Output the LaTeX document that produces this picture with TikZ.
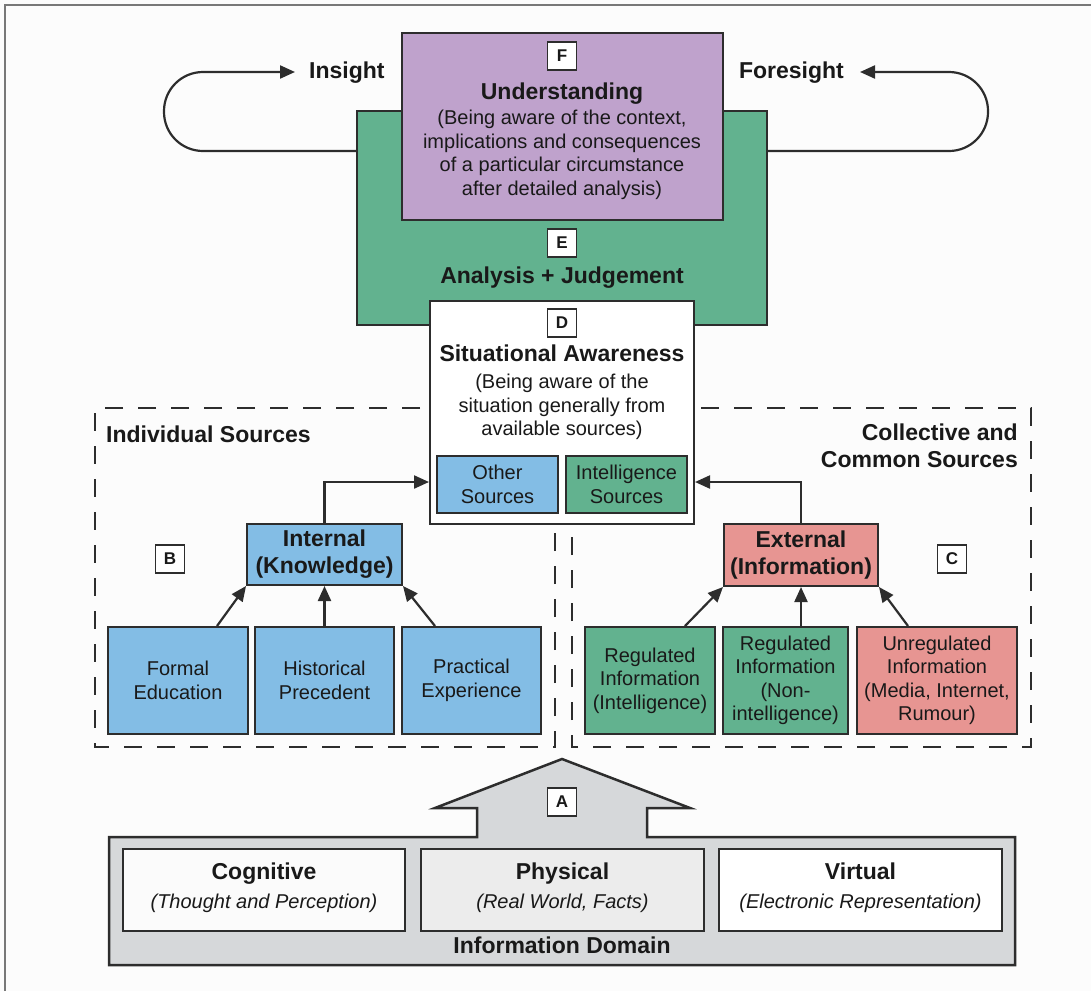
\documentclass[tikz,border=0pt]{standalone}
\usepackage{fontspec}
\setmainfont{Liberation Sans}
\usetikzlibrary{arrows.meta,calc}
\definecolor{purp}{RGB}{191,162,204}
\definecolor{grn}{RGB}{98,178,143}
\definecolor{blu}{RGB}{131,189,229}
\definecolor{pnk}{RGB}{231,149,146}
\definecolor{gry}{RGB}{214,216,218}
\definecolor{physg}{RGB}{236,236,236}
\definecolor{linec}{RGB}{45,45,45}
\definecolor{txt}{RGB}{25,25,25}
\definecolor{framec}{RGB}{120,120,120}
\newcommand{\myhead}{\fontsize{23}{27}\selectfont\bfseries}
\newcommand{\mybody}{\fontsize{20}{23.5}\selectfont}
\tikzset{
 box/.style={draw=linec, line width=2pt, inner sep=0pt},
 lbl/.style={draw=linec, fill=white, line width=1.8pt, minimum width=29pt, minimum height=28pt, inner sep=0pt, font=\fontsize{17}{17}\selectfont\bfseries, text=txt},
 head/.style={font=\myhead, text=txt, align=center, inner sep=0pt},
 hd1/.style={head, text height=16.8pt, text depth=4.8pt},
 body/.style={font=\mybody, text=txt, align=center, inner sep=0pt},
 arr/.style={draw=linec, line width=2.2pt, -{Triangle[length=15pt,width=13pt]}},
 zone/.style={draw=linec, line width=2pt, dash pattern=on 18pt off 15pt},
 leaf/.style={box, body, minimum height=107pt},
 dom/.style={box, minimum height=82pt},
}
\begin{document}
\begin{tikzpicture}[x=1pt,y=-1pt]
\useasboundingbox (0,0) rectangle (1091,991);
\fill[white!98!gray] (0,0) rectangle (1091,991);
\draw[framec, line width=1.5pt] (5,991) -- (5,5) -- (1091,5);

% E and F
\node[box, fill=grn, minimum width=410pt, minimum height=214pt] (E) at (562,218) {};
\node[box, fill=purp, minimum width=321pt, minimum height=187pt] (F) at (562.5,126.5) {};
\node[lbl] (Fl) at (562,56) {F};
\node[hd1] (Ft) at (562,93) {Understanding};
\node[body] (Fd) at (562,155) {(Being aware of the context,\\implications and consequences\\of a particular circumstance\\after detailed analysis)};
\node[lbl] (El) at (562,243) {E};
\node[hd1] (Et) at (562,277) {Analysis + Judgement};

% loops
\coordinate (ly) at (0,151);
\node[hd1, anchor=west, inner xsep=14pt] (ins) at (295,72) {Insight};
\node[hd1, anchor=east, inner xsep=16pt] (fore) at (860,72) {Foresight};
\draw[arr, rounded corners=39pt] (E.west |- ly) -- (164,151) -- (164,72) -- (ins.west);
\draw[arr, rounded corners=39pt] (E.east |- ly) -- (988,151) -- (988,72) -- (fore.east);

% zones
\draw[zone] (420,408) -- (95,408) -- (95,747) -- (555,747) -- (555,530);
\draw[zone] (701,408) -- (1031,408) -- (1031,747) -- (572,747) -- (572,530);
\node[hd1, anchor=west] (isrc) at (106,436) {Individual Sources};
\node[head, anchor=east, align=right] (csrc) at (1018,446) {Collective and\\Common Sources};
\node[lbl] (Bl) at (170,559) {B};
\node[lbl] (Cl) at (952,559) {C};

% D
\node[box, fill=white, minimum width=264pt, minimum height=223pt] (D) at (562,412.5) {};
\node[lbl] (Dl) at (562,323) {D};
\node[hd1] (Dt) at (562,355) {Situational Awareness};
\node[body] (Dd) at (562,407) {(Being aware of the\\situation generally from\\available sources)};
\node[box, body, fill=blu, minimum width=121pt, minimum height=57pt] (os) at (497.5,484.5) {Other\\Sources};
\node[box, body, fill=grn, minimum width=121pt, minimum height=57pt] (is) at (626.5,484.5) {Intelligence\\Sources};

% internal / external
\node[box, head, fill=blu, minimum width=155pt, minimum height=61pt] (int) at (324.5,554.5) {Internal\\(Knowledge)};
\node[box, head, fill=pnk, minimum width=154pt, minimum height=62pt] (ext) at (801,555) {External\\(Information)};

% leaves
\node[leaf, fill=blu, minimum width=140pt] (fe) at (178,680.5) {Formal\\Education};
\node[leaf, fill=blu, minimum width=139pt] (hp) at (324.5,680.5) {Historical\\Precedent};
\node[leaf, fill=blu, minimum width=139pt] (pe) at (471.5,680.5) {Practical\\Experience};
\node[leaf, fill=grn, minimum width=130pt] (ri) at (650,680.5) {Regulated\\Information\\(Intelligence)};
\node[leaf, fill=grn, minimum width=125pt] (rn) at (785.5,680.5) {Regulated\\Information\\(Non-\\intelligence)};
\node[leaf, fill=pnk, minimum width=160pt] (ur) at (937,680.5) {Unregulated\\Information\\(Media, Internet,\\Rumour)};

% arrows
\draw[arr] ([xshift=39pt]fe.north) -- (int.south west);
\draw[arr] (hp.north) -- (int.south);
\draw[arr] ([xshift=-36.5pt]pe.north) -- (int.south east);
\draw[arr] ([xshift=35pt]ri.north) -- (ext.south west);
\draw[arr] (rn.north -| ext.south) -- (ext.south);
\draw[arr] ([xshift=-29pt]ur.north) -- (ext.south east);
\coordinate (ya) at (0,482);
\draw[arr] (int.north) |- (D.west |- ya);
\draw[arr] (ext.north) |- (D.east |- ya);

% information domain
\draw[draw=linec, line width=2.5pt, fill=gry] (109,837) -- (477,837) -- (477,808) -- (435,808) -- (562,759) -- (690,808) -- (647,808) -- (647,837) -- (1015,837) -- (1015,965) -- (109,965) -- cycle;
\node[lbl] (Al) at (562,802) {A};
\node[dom, fill=white!97!gray, minimum width=282pt] (cog) at (264,890) {};
\node[dom, fill=physg, minimum width=283pt] (phy) at (562.5,890) {};
\node[dom, fill=white, minimum width=283pt] (vir) at (860.5,890) {};
\node[hd1] (cogt) at (264,873) {Cognitive};
\node[body, font=\mybody\itshape] (cogd) at (264,903) {(Thought and Perception)};
\node[hd1] (phyt) at (562.5,873) {Physical};
\node[body, font=\mybody\itshape] (phyd) at (562.5,903) {(Real World, Facts)};
\node[hd1] (virt) at (860.5,873) {Virtual};
\node[body, font=\mybody\itshape] (vird) at (860.5,903) {(Electronic Representation)};
\node[hd1] (domt) at (562,947) {Information Domain};
\end{tikzpicture}
\end{document}
